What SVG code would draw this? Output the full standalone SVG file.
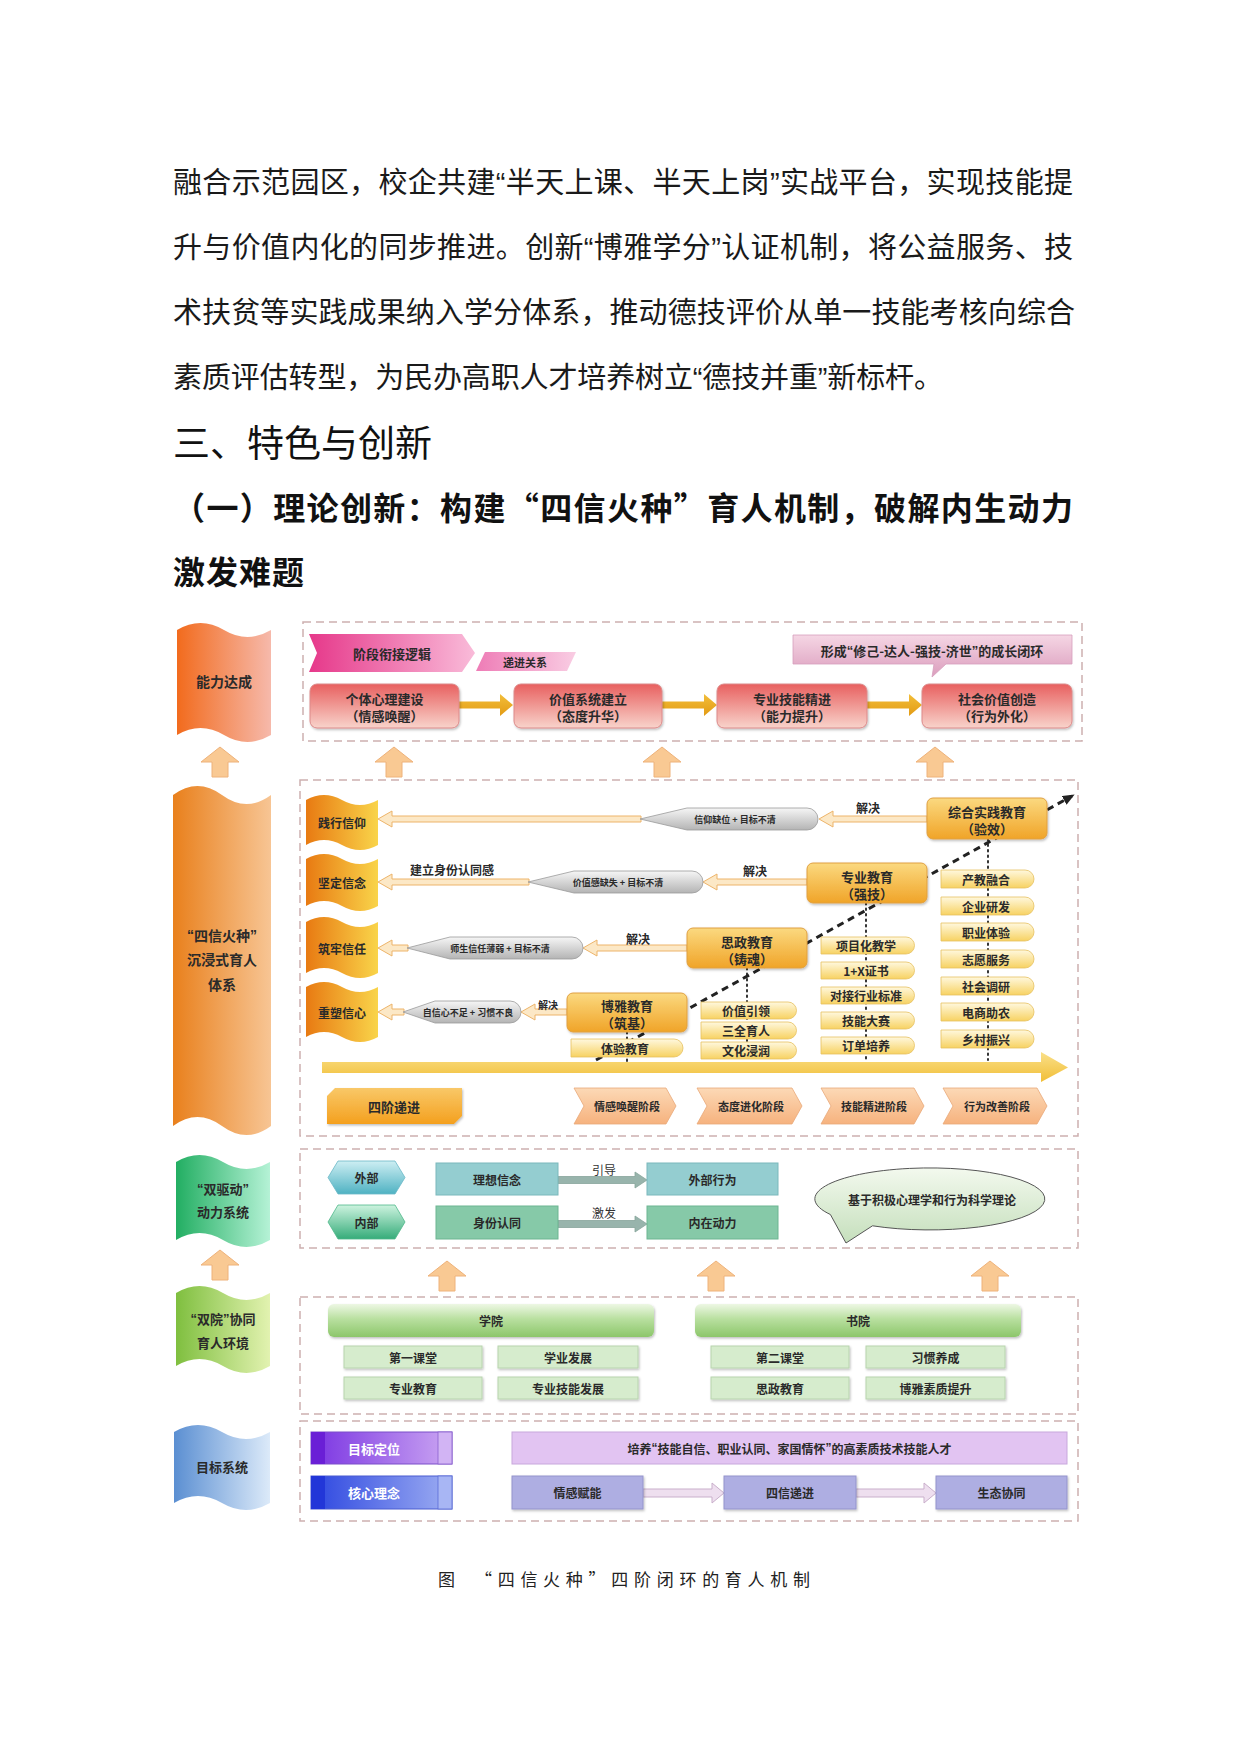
<svg xmlns="http://www.w3.org/2000/svg" width="1240" height="1753" viewBox="0 0 1240 1753">
<defs>
<style>
.body{font-family:"Noto Sans CJK SC","Noto Sans",sans-serif;font-size:29px;fill:#1a1a1a}
.h1{font-family:"Noto Sans CJK SC","Noto Sans",sans-serif;font-size:37px;fill:#111}
.h2{font-family:"Noto Sans CJK SC","Noto Sans",sans-serif;font-size:32px;font-weight:700;fill:#111}
.cap{font-family:"Noto Sans CJK SC","Noto Sans",sans-serif;font-size:17px;fill:#222}
.lb{font-family:"Noto Sans CJK SC","Noto Sans",sans-serif;font-weight:700;fill:#2a2a2a;text-anchor:middle;dominant-baseline:central}
.q{font-family:"Liberation Sans",sans-serif}
.nw{font-weight:400;fill:#333}
.wt{fill:#ffffff}
.s14{font-size:14px}.s13{font-size:13px}.s12{font-size:12px}.s11{font-size:11px}.s10{font-size:10px}.s9{font-size:9px}
.panel{fill:none;stroke:#CDB0B0;stroke-width:1.5;stroke-dasharray:8 5}
.red{fill:url(#gRed);stroke:#DC8A8A;stroke-width:1}
.edu{fill:url(#gEdu);stroke:#E0A040;stroke-width:1}
.pill{fill:url(#gPill);stroke:#E6C060;stroke-width:0.8}
.gray{fill:url(#gGray);stroke:#9A9A9A;stroke-width:0.8}
.harr{fill:#FCE8C6;stroke:#EDB46A;stroke-width:1}
.oarr{fill:url(#gOArr)}
.up{fill:#F9C993;stroke:#EEB27A;stroke-width:1}
.stage{fill:url(#gStage);stroke:#E8A878;stroke-width:0.8}
.sub{fill:#D6ECCD;stroke:#B8D4AE;stroke-width:1}
.lav{fill:#AEAEE2;stroke:#9494CC;stroke-width:1}
.teal{fill:#94CDD0;stroke:#7BB8BC;stroke-width:1}
.grn{fill:#86C9A8;stroke:#6DB592;stroke-width:1}
.garr{fill:#98B4AC;stroke:#86A49B;stroke-width:0.8}
.parr{fill:#EEDFEF;stroke:#C9AFCB;stroke-width:1}
.dot{fill:none;stroke:#333;stroke-width:2;stroke-dasharray:1.5 4;stroke-linecap:round}
</style>
<linearGradient id="gL1" x1="0" y1="0" x2="1" y2="0"><stop offset="0" stop-color="#F26B1D"/><stop offset="1" stop-color="#F6B9AB"/></linearGradient>
<linearGradient id="gL2" x1="0" y1="0" x2="1" y2="0"><stop offset="0" stop-color="#E9801C"/><stop offset="1" stop-color="#F7C594"/></linearGradient>
<linearGradient id="gL3" x1="0" y1="0" x2="1" y2="0"><stop offset="0" stop-color="#22AE62"/><stop offset="1" stop-color="#B5F2D6"/></linearGradient>
<linearGradient id="gL4" x1="0" y1="0" x2="1" y2="0"><stop offset="0" stop-color="#7FBF3F"/><stop offset="1" stop-color="#E2F2B0"/></linearGradient>
<linearGradient id="gL5" x1="0" y1="0" x2="1" y2="0"><stop offset="0" stop-color="#5B8FD2"/><stop offset="1" stop-color="#DCEAF9"/></linearGradient>
<linearGradient id="gChev" x1="0" y1="0" x2="1" y2="0"><stop offset="0" stop-color="#E6388A"/><stop offset="1" stop-color="#F9BBD9"/></linearGradient>
<linearGradient id="gPara" x1="0" y1="0" x2="1" y2="0"><stop offset="0" stop-color="#EE7CB6"/><stop offset="1" stop-color="#F9CDE3"/></linearGradient>
<linearGradient id="gCall" x1="0" y1="0" x2="0" y2="1"><stop offset="0" stop-color="#F5D6E4"/><stop offset="1" stop-color="#DB9DBD"/></linearGradient>
<linearGradient id="gRed" x1="0" y1="0" x2="0" y2="1"><stop offset="0" stop-color="#E8605F"/><stop offset="1" stop-color="#F8D3CB"/></linearGradient>
<linearGradient id="gOArr" x1="0" y1="0" x2="0" y2="1"><stop offset="0" stop-color="#F2BE3A"/><stop offset="1" stop-color="#E39B14"/></linearGradient>
<linearGradient id="gBan" x1="0" y1="0" x2="1" y2="0"><stop offset="0" stop-color="#E87A12"/><stop offset="1" stop-color="#F9D44A"/></linearGradient>
<linearGradient id="gEdu" x1="0" y1="0" x2="0" y2="1"><stop offset="0" stop-color="#FBD980"/><stop offset="1" stop-color="#F0A428"/></linearGradient>
<linearGradient id="gPill" x1="0" y1="0" x2="0" y2="1"><stop offset="0" stop-color="#FFF8DE"/><stop offset="1" stop-color="#F7D262"/></linearGradient>
<linearGradient id="gGray" x1="0" y1="0" x2="0" y2="1"><stop offset="0" stop-color="#F6F6F6"/><stop offset="1" stop-color="#B4B4B4"/></linearGradient>
<linearGradient id="gBar" x1="0" y1="0" x2="0" y2="1"><stop offset="0" stop-color="#FAE08A"/><stop offset="1" stop-color="#F1BE36"/></linearGradient>
<linearGradient id="gFour" x1="0" y1="0" x2="0" y2="1"><stop offset="0" stop-color="#F9C868"/><stop offset="1" stop-color="#F4A01E"/></linearGradient>
<linearGradient id="gStage" x1="0" y1="0" x2="0" y2="1"><stop offset="0" stop-color="#FCD9B6"/><stop offset="1" stop-color="#F6B27E"/></linearGradient>
<linearGradient id="gHexT" x1="0" y1="0" x2="0" y2="1"><stop offset="0" stop-color="#CDEEF3"/><stop offset="1" stop-color="#4FB2C2"/></linearGradient>
<linearGradient id="gHexG" x1="0" y1="0" x2="0" y2="1"><stop offset="0" stop-color="#CDF3DF"/><stop offset="1" stop-color="#36AC7A"/></linearGradient>
<linearGradient id="gBub" x1="0" y1="0" x2="0" y2="1"><stop offset="0" stop-color="#F3F9EE"/><stop offset="1" stop-color="#C5DFBC"/></linearGradient>
<linearGradient id="gCol" x1="0" y1="0" x2="0" y2="1"><stop offset="0" stop-color="#EDF7E4"/><stop offset="0.45" stop-color="#B9E0A0"/><stop offset="1" stop-color="#8CC66A"/></linearGradient>
<linearGradient id="gPur" x1="0" y1="0" x2="1" y2="0"><stop offset="0" stop-color="#7A34E2"/><stop offset="1" stop-color="#CBA6F2"/></linearGradient>
<linearGradient id="gBlu" x1="0" y1="0" x2="1" y2="0"><stop offset="0" stop-color="#2C46E0"/><stop offset="1" stop-color="#9EAEF2"/></linearGradient>
<filter id="sh" x="-10%" y="-20%" width="130%" height="160%"><feDropShadow dx="1" dy="1.5" stdDeviation="1.2" flood-color="#000" flood-opacity="0.25"/></filter>
<marker id="mk" markerWidth="12" markerHeight="10" refX="9" refY="5" orient="auto" markerUnits="userSpaceOnUse"><path d="M0,0 L12,5 L0,10 Z" fill="#222"/></marker>
<path id="upArrow" class="up" d="M0,0 L19,15 L8,15 L8,30 L-8,30 L-8,15 L-19,15 Z"/>
</defs>
<rect width="1240" height="1753" fill="#ffffff"/>

<g id="bodytext">
<text class="body" x="173" y="193" textLength="900" lengthAdjust="spacing">融合示范园区，校企共建<tspan class="q">“</tspan>半天上课、半天上岗<tspan class="q">”</tspan>实战平台，实现技能提</text>
<text class="body" x="173" y="258" textLength="900" lengthAdjust="spacing">升与价值内化的同步推进。创新<tspan class="q">“</tspan>博雅学分<tspan class="q">”</tspan>认证机制，将公益服务、技</text>
<text class="body" x="173" y="323" textLength="902" lengthAdjust="spacing">术扶贫等实践成果纳入学分体系，推动德技评价从单一技能考核向综合</text>
<text class="body" x="173" y="388" textLength="770" lengthAdjust="spacing">素质评估转型，为民办高职人才培养树立<tspan class="q">“</tspan>德技并重<tspan class="q">”</tspan>新标杆。</text>
<text class="h1" x="173" y="457">三、特色与创新</text>
<text class="h2" x="173" y="520" textLength="900" lengthAdjust="spacing">（一）理论创新：构建“四信火种”育人机制，破解内生动力</text>
<text class="h2" x="173" y="584" letter-spacing="1">激发难题</text>
</g>

<g id="panels">
<rect class="panel" x="303" y="622" width="779" height="119"/>
<rect class="panel" x="300" y="780" width="778" height="356"/>
<rect class="panel" x="300" y="1149" width="778" height="99"/>
<rect class="panel" x="300" y="1297" width="778" height="117"/>
<rect class="panel" x="300" y="1421" width="778" height="100"/>
</g>

<g id="connectors">
<use href="#upArrow" transform="translate(220,747)"/>
<use href="#upArrow" transform="translate(394,747)"/>
<use href="#upArrow" transform="translate(662,747)"/>
<use href="#upArrow" transform="translate(935,747)"/>
<use href="#upArrow" transform="translate(220,1250)"/>
<use href="#upArrow" transform="translate(447,1261)"/>
<use href="#upArrow" transform="translate(716,1261)"/>
<use href="#upArrow" transform="translate(990,1261)"/>
<path class="oarr" d="M459,701.5 H500 V694 L513,705 L500,716 V708.5 H459 Z"/>
<path class="oarr" d="M662,701.5 H704 V694 L717,705 L704,716 V708.5 H662 Z"/>
<path class="oarr" d="M867,701.5 H909 V694 L922,705 L909,716 V708.5 H867 Z"/>
<path class="dot" d="M988,839 V1060 M866,903 V1060 M747,968 V1061 M627,1032 V1061"/>
<path d="M322,1062 H1041 V1052 L1068,1067.5 L1041,1082 V1073 H322 Z" fill="url(#gBar)"/>
<line x1="596" y1="1060" x2="1072" y2="796" stroke="#222" stroke-width="3" stroke-dasharray="7 5" marker-end="url(#mk)"/>
<path class="harr" d="M819,819 L833,811 L833,816 L927,816 L927,822 L833,822 L833,827 Z"/>
<path class="harr" d="M378,819 L392,811 L392,816 L641,816 L641,822 L392,822 L392,827 Z"/>
<path class="harr" d="M703,882 L717,874 L717,879 L807,879 L807,885 L717,885 L717,890 Z"/>
<path class="harr" d="M378,882 L392,874 L392,879 L529,879 L529,885 L392,885 L392,890 Z"/>
<path class="harr" d="M583,948 L597,940 L597,945 L687,945 L687,951 L597,951 L597,956 Z"/>
<path class="harr" d="M378,948 L392,940 L392,945 L408,945 L408,951 L392,951 L392,956 Z"/>
<path class="harr" d="M521,1012 L535,1004 L535,1009 L567,1009 L567,1015 L535,1015 L535,1020 Z"/>
<path class="harr" d="M378,1012 L392,1004 L392,1009 L404,1009 L404,1015 L392,1015 L392,1020 Z"/>
<path class="garr" d="M558,1176.5 H635 V1172 L647,1180 L635,1188 V1183.5 H558 Z"/>
<path class="garr" d="M558,1220.5 H635 V1216 L647,1224 L635,1232 V1227.5 H558 Z"/>
<path class="parr" d="M643,1489 H712 V1483 L724,1493 L712,1503 V1497 H643 Z"/>
<path class="parr" d="M856,1489 H924 V1483 L936,1493 L924,1503 V1497 H856 Z"/>
<text class="lb s12 nw" x="604" y="1169">引导</text>
<text class="lb s12 nw" x="604" y="1212">激发</text>
<text class="lb s12" x="868" y="807">解决</text>
<text class="lb s12" x="755" y="870">解决</text>
<text class="lb s12" x="452" y="869">建立身份认同感</text>
<text class="lb s12" x="638" y="938">解决</text>
<text class="lb s10" x="548" y="1004">解决</text>
</g>

<g id="left-column">
<g id="n-nengli"><path fill="url(#gL1)" d="M177,630 Q200.5,616 224,630 T271,630 L271,735 Q247.5,749 224,735 T177,735 Z"/><text class="lb s14" x="224" y="681">能力达成</text></g>
<g id="n-sixin"><path fill="url(#gL2)" d="M173,795 Q197.5,777 222,795 T271,795 L271,1126 Q246.5,1144 222,1126 T173,1126 Z"/><text class="lb s14" x="222" y="935"><tspan class="q">“</tspan>四信火种<tspan class="q">”</tspan></text><text class="lb s14" x="222" y="959">沉浸式育人</text><text class="lb s14" x="222" y="984">体系</text></g>
<g id="n-drive"><path fill="url(#gL3)" d="M176,1162 Q199.5,1148 223,1162 T270,1162 L270,1240 Q246.5,1254 223,1240 T176,1240 Z"/><text class="lb s13" x="223" y="1188"><tspan class="q">“</tspan>双驱动<tspan class="q">”</tspan></text><text class="lb s13" x="223" y="1211">动力系统</text></g>
<g id="n-env"><path fill="url(#gL4)" d="M176,1293 Q199.5,1279 223,1293 T270,1293 L270,1366 Q246.5,1380 223,1366 T176,1366 Z"/><text class="lb s13" x="223" y="1318"><tspan class="q">“</tspan>双院<tspan class="q">”</tspan>协同</text><text class="lb s13" x="223" y="1342">育人环境</text></g>
<g id="n-goal"><path fill="url(#gL5)" d="M174,1432 Q198,1418 222,1432 T270,1432 L270,1503 Q246,1517 222,1503 T174,1503 Z"/><text class="lb s13" x="222" y="1466">目标系统</text></g>
</g>

<g id="panel-a">
<g id="n-logic"><path fill="url(#gChev)" d="M309,634 H462 L475,653 L462,672 H309 L317,653 Z"/><text class="lb s13" x="392" y="653">阶段衔接逻辑</text></g>
<g id="n-progress"><path fill="url(#gPara)" d="M485,652 H576 L567,671 H476 Z"/><text class="lb s11" x="525" y="661.5">递进关系</text></g>
<g id="n-loop"><path fill="url(#gCall)" stroke="#D5A0BC" stroke-width="0.8" d="M793,635 H1072 V664 H946 L932,677 L934,664 H793 Z"/><text class="lb s13" x="932" y="650">形成<tspan class="q">“</tspan>修己-达人-强技-济世<tspan class="q">”</tspan>的成长闭环</text></g>
<g id="n-s1"><rect class="red" x="310" y="684" width="149" height="44" rx="7" filter="url(#sh)"/><text class="lb s13" x="384.5" y="698">个体心理建设</text><text class="lb s13" x="384.5" y="715">（情感唤醒）</text></g>
<g id="n-s2"><rect class="red" x="514" y="684" width="148" height="44" rx="7" filter="url(#sh)"/><text class="lb s13" x="588" y="698">价值系统建立</text><text class="lb s13" x="588" y="715">（态度升华）</text></g>
<g id="n-s3"><rect class="red" x="717" y="684" width="150" height="44" rx="7" filter="url(#sh)"/><text class="lb s13" x="792" y="698">专业技能精进</text><text class="lb s13" x="792" y="715">（能力提升）</text></g>
<g id="n-s4"><rect class="red" x="922" y="684" width="150" height="44" rx="7" filter="url(#sh)"/><text class="lb s13" x="997" y="698">社会价值创造</text><text class="lb s13" x="997" y="715">（行为外化）</text></g>
</g>

<g id="panel-b">
<g id="n-b1"><path fill="url(#gBan)" d="M306,800 Q324,790 342,800 T378,800 L378,845 Q360,855 342,845 T306,845 Z"/><text class="lb s12" x="342" y="822">践行信仰</text></g>
<g id="n-b2"><path fill="url(#gBan)" d="M306,859 Q324,849 342,859 T378,859 L378,906 Q360,916 342,906 T306,906 Z"/><text class="lb s12" x="342" y="882">坚定信念</text></g>
<g id="n-b3"><path fill="url(#gBan)" d="M306,922 Q324,912 342,922 T378,922 L378,973 Q360,983 342,973 T306,973 Z"/><text class="lb s12" x="342" y="948">筑牢信任</text></g>
<g id="n-b4"><path fill="url(#gBan)" d="M306,987 Q324,977 342,987 T378,987 L378,1037 Q360,1047 342,1037 T306,1037 Z"/><text class="lb s12" x="342" y="1012">重塑信心</text></g>

<g id="n-g1"><path class="gray" d="M640,819 L687,808 H807 A11 11 0 0 1 807,830 H687 Z"/><text class="lb s9" x="735" y="819">信仰缺位 + 目标不清</text></g>
<g id="n-g2"><path class="gray" d="M528,882 L574,871 H692 A11 11 0 0 1 692,893 H574 Z"/><text class="lb s9" x="618" y="882">价值感缺失 + 目标不清</text></g>
<g id="n-g3"><path class="gray" d="M407,948 L450,937 H572 A11 11 0 0 1 572,959 H450 Z"/><text class="lb s9" x="500" y="948">师生信任薄弱 + 目标不清</text></g>
<g id="n-g4"><path class="gray" d="M403,1012 L435,1001 H510 A11 11 0 0 1 510,1023 H435 Z"/><text class="lb s9" x="468" y="1012">自信心不足 + 习惯不良</text></g>

<g id="n-zonghe"><rect class="edu" x="927" y="798" width="120" height="41" rx="6" filter="url(#sh)"/><text class="lb s13" x="987" y="811">综合实践教育</text><text class="lb s13" x="987" y="828">（验效）</text></g>
<g id="n-zhuanye"><rect class="edu" x="807" y="863" width="120" height="40" rx="6" filter="url(#sh)"/><text class="lb s13" x="867" y="876">专业教育</text><text class="lb s13" x="867" y="893">（强技）</text></g>
<g id="n-sizheng"><rect class="edu" x="687" y="928" width="120" height="40" rx="6" filter="url(#sh)"/><text class="lb s13" x="747" y="941">思政教育</text><text class="lb s13" x="747" y="958">（铸魂）</text></g>
<g id="n-boya"><rect class="edu" x="567" y="993" width="120" height="39" rx="6" filter="url(#sh)"/><text class="lb s13" x="627" y="1005">博雅教育</text><text class="lb s13" x="627" y="1022">（筑基）</text></g>

<g id="n-p-tiyan"><path class="pill" d="M571,1039 H674 A9 9 0 0 1 674,1057 H571 Z"/><text class="lb s12" x="625" y="1048">体验教育</text></g>
<g id="n-p-jz"><path class="pill" d="M701,1002 H788 A8.5 8.5 0 0 1 788,1019 H701 Z"/><text class="lb s12" x="746" y="1010.5">价值引领</text></g>
<g id="n-p-sq"><path class="pill" d="M701,1022 H788 A8.5 8.5 0 0 1 788,1039 H701 Z"/><text class="lb s12" x="746" y="1030.5">三全育人</text></g>
<g id="n-p-wh"><path class="pill" d="M701,1042 H788 A8.5 8.5 0 0 1 788,1059 H701 Z"/><text class="lb s12" x="746" y="1050.5">文化浸润</text></g>
<g id="n-p-xm"><path class="pill" d="M821,937 H906 A8.5 8.5 0 0 1 906,954 H821 Z"/><text class="lb s12" x="866" y="945.5">项目化教学</text></g>
<g id="n-p-1x"><path class="pill" d="M821,962 H906 A8.5 8.5 0 0 1 906,979 H821 Z"/><text class="lb s12" x="866" y="970.5">1+X证书</text></g>
<g id="n-p-dj"><path class="pill" d="M821,987 H906 A8.5 8.5 0 0 1 906,1004 H821 Z"/><text class="lb s12" x="866" y="995.5">对接行业标准</text></g>
<g id="n-p-jn"><path class="pill" d="M821,1012 H906 A8.5 8.5 0 0 1 906,1029 H821 Z"/><text class="lb s12" x="866" y="1020.5">技能大赛</text></g>
<g id="n-p-dd"><path class="pill" d="M821,1037 H906 A8.5 8.5 0 0 1 906,1054 H821 Z"/><text class="lb s12" x="866" y="1045.5">订单培养</text></g>
<g id="n-p-cj"><path class="pill" d="M941,870 H1025 A9 9 0 0 1 1025,888 H941 Z"/><text class="lb s12" x="986" y="879">产教融合</text></g>
<g id="n-p-qy"><path class="pill" d="M941,897 H1025 A9 9 0 0 1 1025,915 H941 Z"/><text class="lb s12" x="986" y="906">企业研发</text></g>
<g id="n-p-zy"><path class="pill" d="M941,923 H1025 A9 9 0 0 1 1025,941 H941 Z"/><text class="lb s12" x="986" y="932">职业体验</text></g>
<g id="n-p-zyfw"><path class="pill" d="M941,950 H1025 A9 9 0 0 1 1025,968 H941 Z"/><text class="lb s12" x="986" y="959">志愿服务</text></g>
<g id="n-p-sh"><path class="pill" d="M941,977 H1025 A9 9 0 0 1 1025,995 H941 Z"/><text class="lb s12" x="986" y="986">社会调研</text></g>
<g id="n-p-ds"><path class="pill" d="M941,1003 H1025 A9 9 0 0 1 1025,1021 H941 Z"/><text class="lb s12" x="986" y="1012">电商助农</text></g>
<g id="n-p-xc"><path class="pill" d="M941,1030 H1025 A9 9 0 0 1 1025,1048 H941 Z"/><text class="lb s12" x="986" y="1039">乡村振兴</text></g>

<g id="n-four"><path fill="url(#gFour)" d="M335,1088 H462 V1116 L454,1124 H327 V1096 Z" filter="url(#sh)"/><text class="lb s13" x="394" y="1106">四阶递进</text></g>
<g id="n-st1"><path class="stage" d="M574,1088 H666 L676,1106 L666,1124 H574 L584,1106 Z"/><text class="lb s11" x="627" y="1106">情感唤醒阶段</text></g>
<g id="n-st2"><path class="stage" d="M697,1088 H792 L802,1106 L792,1124 H697 L707,1106 Z"/><text class="lb s11" x="751" y="1106">态度进化阶段</text></g>
<g id="n-st3"><path class="stage" d="M821,1088 H914 L924,1106 L914,1124 H821 L831,1106 Z"/><text class="lb s11" x="874" y="1106">技能精进阶段</text></g>
<g id="n-st4"><path class="stage" d="M943,1088 H1037 L1047,1106 L1037,1124 H943 L953,1106 Z"/><text class="lb s11" x="997" y="1106">行为改善阶段</text></g>
</g>

<g id="panel-c">
<g id="n-ext"><path fill="url(#gHexT)" stroke="#6AB8C6" stroke-width="0.8" d="M338,1161 L395,1161 L405,1177.5 L395,1194 L338,1194 L328,1177.5 Z"/><text class="lb s12" x="366.5" y="1177.5">外部</text></g>
<g id="n-int"><path fill="url(#gHexG)" stroke="#4FB88A" stroke-width="0.8" d="M338,1205 L395,1205 L405,1222 L395,1239 L338,1239 L328,1222 Z"/><text class="lb s12" x="366.5" y="1222">内部</text></g>
<g id="n-lx"><rect class="teal" x="436" y="1163" width="122" height="32"/><text class="lb s12" x="497" y="1179">理想信念</text></g>
<g id="n-wb"><rect class="teal" x="647" y="1163" width="131" height="32"/><text class="lb s12" x="712.5" y="1179">外部行为</text></g>
<g id="n-sf"><rect class="grn" x="436" y="1206" width="122" height="33"/><text class="lb s12" x="497" y="1222.5">身份认同</text></g>
<g id="n-nz"><rect class="grn" x="647" y="1206" width="131" height="33"/><text class="lb s12" x="712.5" y="1222.5">内在动力</text></g>
<g id="n-theory"><path fill="url(#gBub)" stroke="#555" stroke-width="1" d="M872.5,1225.8 L846,1243 L830.4,1214.5 A115 31 0 1 1 872.5,1225.8 Z"/><text class="lb s12" x="932" y="1199">基于积极心理学和行为科学理论</text></g>
</g>

<g id="panel-d">
<g id="n-xy"><rect x="328" y="1304" width="326" height="33" rx="6" fill="url(#gCol)" filter="url(#sh)"/><text class="lb s12" x="491" y="1320">学院</text></g>
<g id="n-sy"><rect x="695" y="1304" width="326" height="33" rx="6" fill="url(#gCol)" filter="url(#sh)"/><text class="lb s12" x="858" y="1320">书院</text></g>
<g id="n-d1"><rect class="sub" x="344" y="1346" width="138" height="22" filter="url(#sh)"/><text class="lb s12" x="413" y="1357">第一课堂</text></g>
<g id="n-d2"><rect class="sub" x="498" y="1346" width="140" height="22" filter="url(#sh)"/><text class="lb s12" x="568" y="1357">学业发展</text></g>
<g id="n-d3"><rect class="sub" x="711" y="1346" width="138" height="22" filter="url(#sh)"/><text class="lb s12" x="780" y="1357">第二课堂</text></g>
<g id="n-d4"><rect class="sub" x="866" y="1346" width="139" height="22" filter="url(#sh)"/><text class="lb s12" x="935.5" y="1357">习惯养成</text></g>
<g id="n-d5"><rect class="sub" x="344" y="1377" width="138" height="22" filter="url(#sh)"/><text class="lb s12" x="413" y="1388">专业教育</text></g>
<g id="n-d6"><rect class="sub" x="498" y="1377" width="140" height="22" filter="url(#sh)"/><text class="lb s12" x="568" y="1388">专业技能发展</text></g>
<g id="n-d7"><rect class="sub" x="711" y="1377" width="138" height="22" filter="url(#sh)"/><text class="lb s12" x="780" y="1388">思政教育</text></g>
<g id="n-d8"><rect class="sub" x="866" y="1377" width="139" height="22" filter="url(#sh)"/><text class="lb s12" x="935.5" y="1388">博雅素质提升</text></g>
</g>

<g id="panel-e">
<g id="n-mbdw"><rect x="311" y="1432" width="141" height="32" fill="url(#gPur)" stroke="#7B4FC8" stroke-width="1"/><rect x="311" y="1432" width="14" height="32" fill="#6A1FD6"/><rect x="438" y="1432" width="14" height="32" fill="#D2B4F4" stroke="#8A60D0" stroke-width="0.8"/><text class="lb s13 wt" x="374" y="1448">目标定位</text></g>
<g id="n-hxln"><rect x="311" y="1476" width="141" height="33" fill="url(#gBlu)" stroke="#4A5CD0" stroke-width="1"/><rect x="311" y="1476" width="14" height="33" fill="#2236D8"/><rect x="438" y="1476" width="14" height="33" fill="#A8B6F4" stroke="#5A6CD8" stroke-width="0.8"/><text class="lb s13 wt" x="374" y="1492.5">核心理念</text></g>
<g id="n-target"><rect x="512" y="1432" width="555" height="32" fill="#E2C4F2" stroke="#C8A8DC" stroke-width="1"/><text class="lb s12" x="789.5" y="1448">培养<tspan class="q">“</tspan>技能自信、职业认同、家国情怀<tspan class="q">”</tspan>的高素质技术技能人才</text></g>
<g id="n-qg"><rect class="lav" x="512" y="1476" width="131" height="33" filter="url(#sh)"/><text class="lb s12" x="577.5" y="1492.5">情感赋能</text></g>
<g id="n-sx"><rect class="lav" x="724" y="1476" width="132" height="33" filter="url(#sh)"/><text class="lb s12" x="790" y="1492.5">四信递进</text></g>
<g id="n-st"><rect class="lav" x="936" y="1476" width="131" height="33" filter="url(#sh)"/><text class="lb s12" x="1001.5" y="1492.5">生态协同</text></g>
</g>

<text class="cap" x="438" y="1586" textLength="372" lengthAdjust="spacing">图　“四信火种”四阶闭环的育人机制</text>
</svg>
